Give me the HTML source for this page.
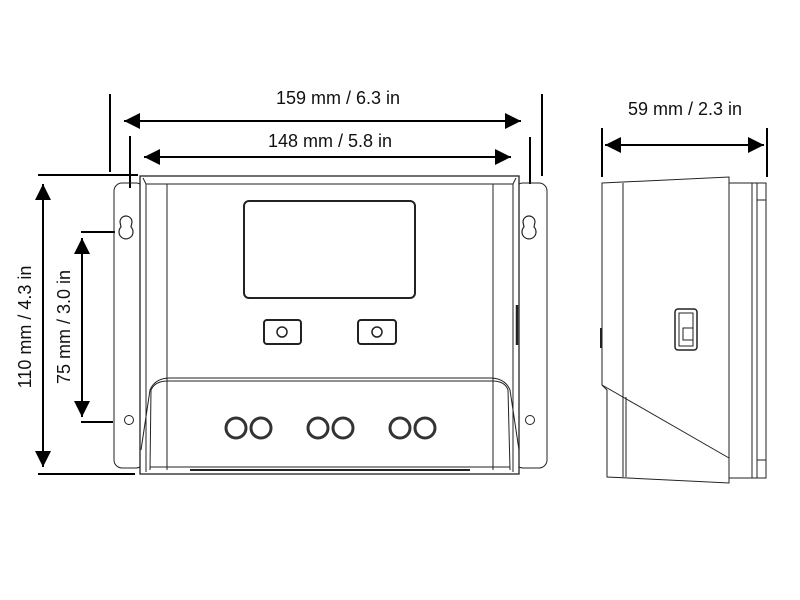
<!DOCTYPE html>
<html><head><style>body{margin:0;background:#fff}svg{display:block}</style></head><body>
<svg width="800" height="600" viewBox="0 0 800 600" xmlns="http://www.w3.org/2000/svg" font-family="Liberation Sans, sans-serif">
<defs>
<marker id="a" viewBox="0 0 10 10" refX="10" refY="5" markerWidth="16" markerHeight="16" markerUnits="userSpaceOnUse" orient="auto-start-reverse"><path d="M0,0L10,5L0,10z" fill="#000"/></marker>
</defs>
<g stroke="#000" stroke-width="2" fill="none">
<line x1="110" y1="94" x2="110" y2="172"/>
<line x1="130" y1="136" x2="130" y2="188"/>
<line x1="542" y1="94" x2="542" y2="176"/>
<line x1="530" y1="137" x2="530" y2="184"/>
<line x1="124" y1="121" x2="521" y2="121" marker-start="url(#a)" marker-end="url(#a)"/>
<line x1="144" y1="157" x2="511" y2="157" marker-start="url(#a)" marker-end="url(#a)"/>
<line x1="38" y1="175" x2="138" y2="175"/>
<line x1="38" y1="474" x2="135" y2="474"/>
<line x1="43" y1="184" x2="43" y2="467" marker-start="url(#a)" marker-end="url(#a)"/>
<line x1="81" y1="232" x2="115" y2="232"/>
<line x1="81" y1="422" x2="113" y2="422"/>
<line x1="82" y1="238" x2="82" y2="417" marker-start="url(#a)" marker-end="url(#a)"/>
<line x1="602" y1="128" x2="602" y2="177"/>
<line x1="767" y1="128" x2="767" y2="177"/>
<line x1="605" y1="145" x2="764" y2="145" marker-start="url(#a)" marker-end="url(#a)"/>
</g>
<g font-size="18" fill="#111" text-anchor="middle">
<text x="338" y="104">159 mm / 6.3 in</text>
<text x="330" y="147">148 mm / 5.8 in</text>
<text x="685" y="115">59 mm / 2.3 in</text>
<text transform="translate(31,327) rotate(-90)">110 mm / 4.3 in</text>
<text transform="translate(70,327) rotate(-90)">75 mm / 3.0 in</text>
</g>
<g stroke="#222" stroke-width="1" fill="none">
<rect x="114" y="183" width="30" height="285" rx="8"/>
<rect x="515" y="183" width="32" height="285" rx="8"/>
<path d="M120,222a6,6 0 1 1 12,0l-1,5a7,7 0 1 1 -10,0z" stroke-width="1.2"/>
<path d="M523,222a6,6 0 1 1 12,0l-1,5a7,7 0 1 1 -10,0z" stroke-width="1.2"/>
<circle cx="129" cy="420" r="4.5"/>
<circle cx="530" cy="420" r="4.5"/>
<rect x="140" y="176" width="379" height="298" fill="#fff" stroke-width="1.3"/>
<path d="M143,178 L146,184 H513 L516,178"/>
<line x1="146" y1="184" x2="146" y2="472"/>
<line x1="513" y1="184" x2="513" y2="472"/>
<line x1="167" y1="184" x2="167" y2="470"/>
<line x1="493" y1="184" x2="493" y2="470"/>
<path d="M141,450 L150,390 Q155,378 170,378 H490 Q505,378 510,390 L519,450"/>
<path d="M150,470 L151,390 Q155,381 168,381 H492 Q505,381 508,390 L510,470"/>
<line x1="150" y1="467" x2="510" y2="467"/>
<line x1="190" y1="470" x2="470" y2="470" stroke-width="2"/>
<line x1="517" y1="305" x2="517" y2="345" stroke-width="2.5"/>
<rect x="244" y="201" width="171" height="97" rx="5" stroke-width="2"/>
<rect x="264" y="320" width="37" height="24" rx="3" stroke-width="2"/>
<rect x="358" y="320" width="38" height="24" rx="3" stroke-width="2"/>
<circle cx="282" cy="332" r="5" stroke-width="1.5"/>
<circle cx="377" cy="332" r="5" stroke-width="1.5"/>
<g stroke-width="3" stroke="#333">
<circle cx="236" cy="428" r="10"/><circle cx="261" cy="428" r="10"/>
<circle cx="318" cy="428" r="10"/><circle cx="343" cy="428" r="10"/>
<circle cx="400" cy="428" r="10"/><circle cx="425" cy="428" r="10"/>
</g>
<path d="M602,183 L729,177 V483 L607,477 L607,390 L602,385 Z" fill="#fff"/>
<line x1="623" y1="183" x2="623" y2="477"/>
<line x1="626" y1="397" x2="626" y2="477"/>
<line x1="602" y1="385" x2="729" y2="458"/>
<rect x="729" y="183" width="37" height="295"/>
<line x1="752" y1="183" x2="752" y2="478"/>
<line x1="757" y1="183" x2="757" y2="478"/>
<line x1="757" y1="200" x2="766" y2="200"/>
<line x1="757" y1="460" x2="766" y2="460"/>
<line x1="601" y1="328" x2="601" y2="348" stroke-width="2"/>
<rect x="675" y="309" width="22" height="41" rx="3" stroke-width="1.5"/>
<rect x="679" y="313" width="14" height="33"/>
<rect x="683" y="328" width="10" height="12"/>
</g>
</svg>
</body></html>
